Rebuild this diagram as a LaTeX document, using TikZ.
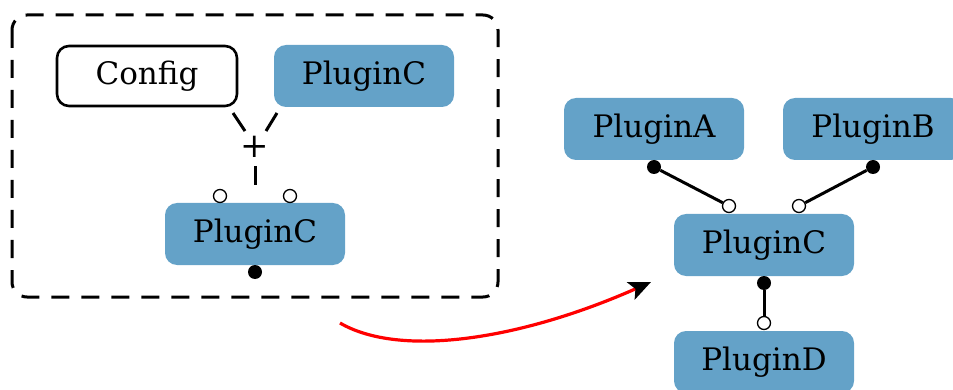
\documentclass[tikz,border=0pt]{standalone}
\usepackage{fontspec}
\setmainfont{DejaVu Serif}
\usetikzlibrary{arrows.meta,calc}
\definecolor{plugblue}{RGB}{100,162,200}
\begin{document}
\begin{tikzpicture}[x=1pt,y=-1pt,
  plug/.style={fill=plugblue,rounded corners=12pt,minimum width=180pt,minimum height=62pt,inner sep=0pt,font=\fontsize{31}{36}\selectfont},
  cfg/.style={draw=black,line width=2.6pt,fill=white,rounded corners=12pt,minimum width=180pt,minimum height=60pt,inner sep=0pt,font=\fontsize{31}{36}\selectfont},
  ball/.style={circle,fill=black,inner sep=0pt,minimum size=14pt},
  sock/.style={circle,draw=black,fill=white,line width=1.3pt,inner sep=0pt,minimum size=13pt},
  link/.style={line width=3pt},
  dlink/.style={line width=3pt}
]
\useasboundingbox (0,0) rectangle (953,390);
% dashed container
\draw[line width=3pt,dash pattern=on 18pt off 12pt,rounded corners=15pt] (12,15) rectangle (498,297);
\node[cfg] (config) at (147,76) {Config};
\node[plug] (pcTop) at (364,76) {PluginC};
\node[plug] (pcIn) at (255,234) {PluginC};
\node[inner sep=0pt,font=\fontsize{34}{34}\selectfont] (plus) at (255,147) {+};
\coordinate (d1a) at (233,113); \coordinate (d1b) at (245,131);
\coordinate (d2a) at (277,113); \coordinate (d2b) at (266,131);
\coordinate (d3a) at (255,166); \coordinate (d3b) at (255,185);
\draw[dlink] (d1a) -- (d1b);
\draw[dlink] (d2a) -- (d2b);
\draw[dlink] (d3a) -- (d3b);
\node[sock] (s1) at (220,196) {};
\node[sock] (s2) at (290,196) {};
\node[ball] (b0) at (255,272) {};
% right graph
\node[plug] (pa) at (654,129) {PluginA};
\node[plug] (pb) at (873,129) {PluginB};
\node[plug] (pc) at (764,245) {PluginC};
\node[plug] (pd) at (764,362) {PluginD};
\node[ball] (ba) at (654,167) {};
\node[ball] (bb) at (873,167) {};
\node[ball] (bc) at (764,283) {};
\node[sock] (sa) at (729,206) {};
\node[sock] (sb) at (799,206) {};
\node[sock] (sd) at (764,323) {};
\draw[link] (ba) -- (sa);
\draw[link] (bb) -- (sb);
\draw[link] (bc) -- (sd);
% red arrow
\coordinate (rs) at (340,323);
\coordinate (re) at (651,282);
\draw[red,line width=3.2pt,-{Stealth[black,length=22pt,width=19pt,inset=5pt]}] (rs) .. controls (400,358) and (520,340) .. (re);
\end{tikzpicture}
\end{document}
